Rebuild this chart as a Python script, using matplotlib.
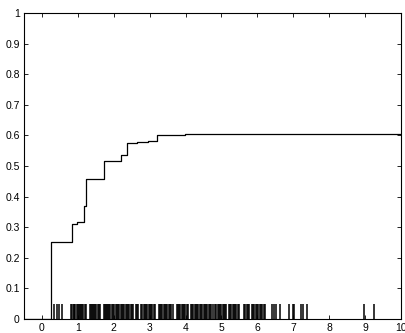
import numpy as np
import matplotlib.pyplot as plt

plt.rcParams['font.family'] = ['Liberation Sans', 'DejaVu Sans']

# step curve (breakpoints, post-style)
step_x = [-0.5, 0.24, 0.83, 0.98, 1.17, 1.24, 1.73, 2.19, 2.36, 2.64, 2.95, 3.21, 3.98, 10.0]
step_y = [0.0, 0.252, 0.309, 0.316, 0.370, 0.456, 0.516, 0.535, 0.576, 0.579, 0.581, 0.600, 0.605, 0.605]

# rug positions along the bottom
rug_x = [0.34, 0.41, 0.47, 0.55,
         0.81, 0.84, 0.88, 0.90, 0.93, 0.97, 1.00, 1.02, 1.06, 1.09, 1.12, 1.15,
         1.19, 1.22, 1.33, 1.36, 1.38, 1.42, 1.45, 1.48, 1.51, 1.55, 1.58, 1.61,
         1.72, 1.75, 1.78, 1.80, 1.84, 1.87, 1.90, 1.94, 1.97, 2.00, 2.05, 2.08,
         2.11, 2.15, 2.19, 2.22, 2.26, 2.29, 2.33, 2.36, 2.40, 2.43, 2.47, 2.50,
         2.53, 2.62, 2.65, 2.68, 2.76, 2.79, 2.83, 2.86, 2.90, 2.93, 2.97, 3.00,
         3.04, 3.07, 3.11, 3.14, 3.25, 3.28, 3.32, 3.35, 3.39, 3.42, 3.46, 3.49,
         3.53, 3.56, 3.60, 3.64, 3.75, 3.78, 3.82, 3.85, 3.89, 3.92, 3.96, 3.99,
         4.03, 4.06, 4.15, 4.18, 4.22, 4.25, 4.29, 4.32, 4.36, 4.39, 4.43, 4.46,
         4.50, 4.53, 4.57, 4.61, 4.64, 4.68, 4.71, 4.75, 4.82, 4.85, 4.89, 4.92,
         4.96, 4.99, 5.03, 5.06, 5.10, 5.13, 5.20, 5.24, 5.27, 5.31, 5.34, 5.38,
         5.41, 5.45, 5.48, 5.63, 5.66, 5.70, 5.73, 5.77, 5.84, 5.88, 5.91, 5.95,
         5.99, 6.03, 6.06, 6.10, 6.14, 6.18, 6.21,
         6.40, 6.46, 6.52, 6.63, 6.89, 7.00, 7.03, 7.21, 7.26, 7.37, 8.98, 9.25]
rug_h = 0.05

x_ticks = list(range(0, 11))
y_ticks = [0, 0.1, 0.2, 0.3, 0.4, 0.5, 0.6, 0.7, 0.8, 0.9, 1]
y_labels = ['0', '0.1', '0.2', '0.3', '0.4', '0.5', '0.6', '0.7', '0.8', '0.9', '1']

fig = plt.figure(figsize=(4.06, 3.33), dpi=100)
ax = fig.add_axes([24 / 406, 14 / 333, 377 / 406, 306 / 333])

ax.step(step_x, step_y, where='post', color='k', lw=0.9)
ax.vlines(rug_x, 0, rug_h, color='k', lw=1.1)

ax.set_xlim(-0.5, 10)
ax.set_ylim(0, 1)
ax.set_xticks(x_ticks)
ax.set_yticks(y_ticks)
ax.set_yticklabels(y_labels)
ax.tick_params(direction='in', length=3, width=0.6, labelsize=7.5,
               top=True, right=True, pad=3, colors='k')
for s in ax.spines.values():
    s.set_linewidth(0.8)

fig.savefig('out.png', dpi=100)
